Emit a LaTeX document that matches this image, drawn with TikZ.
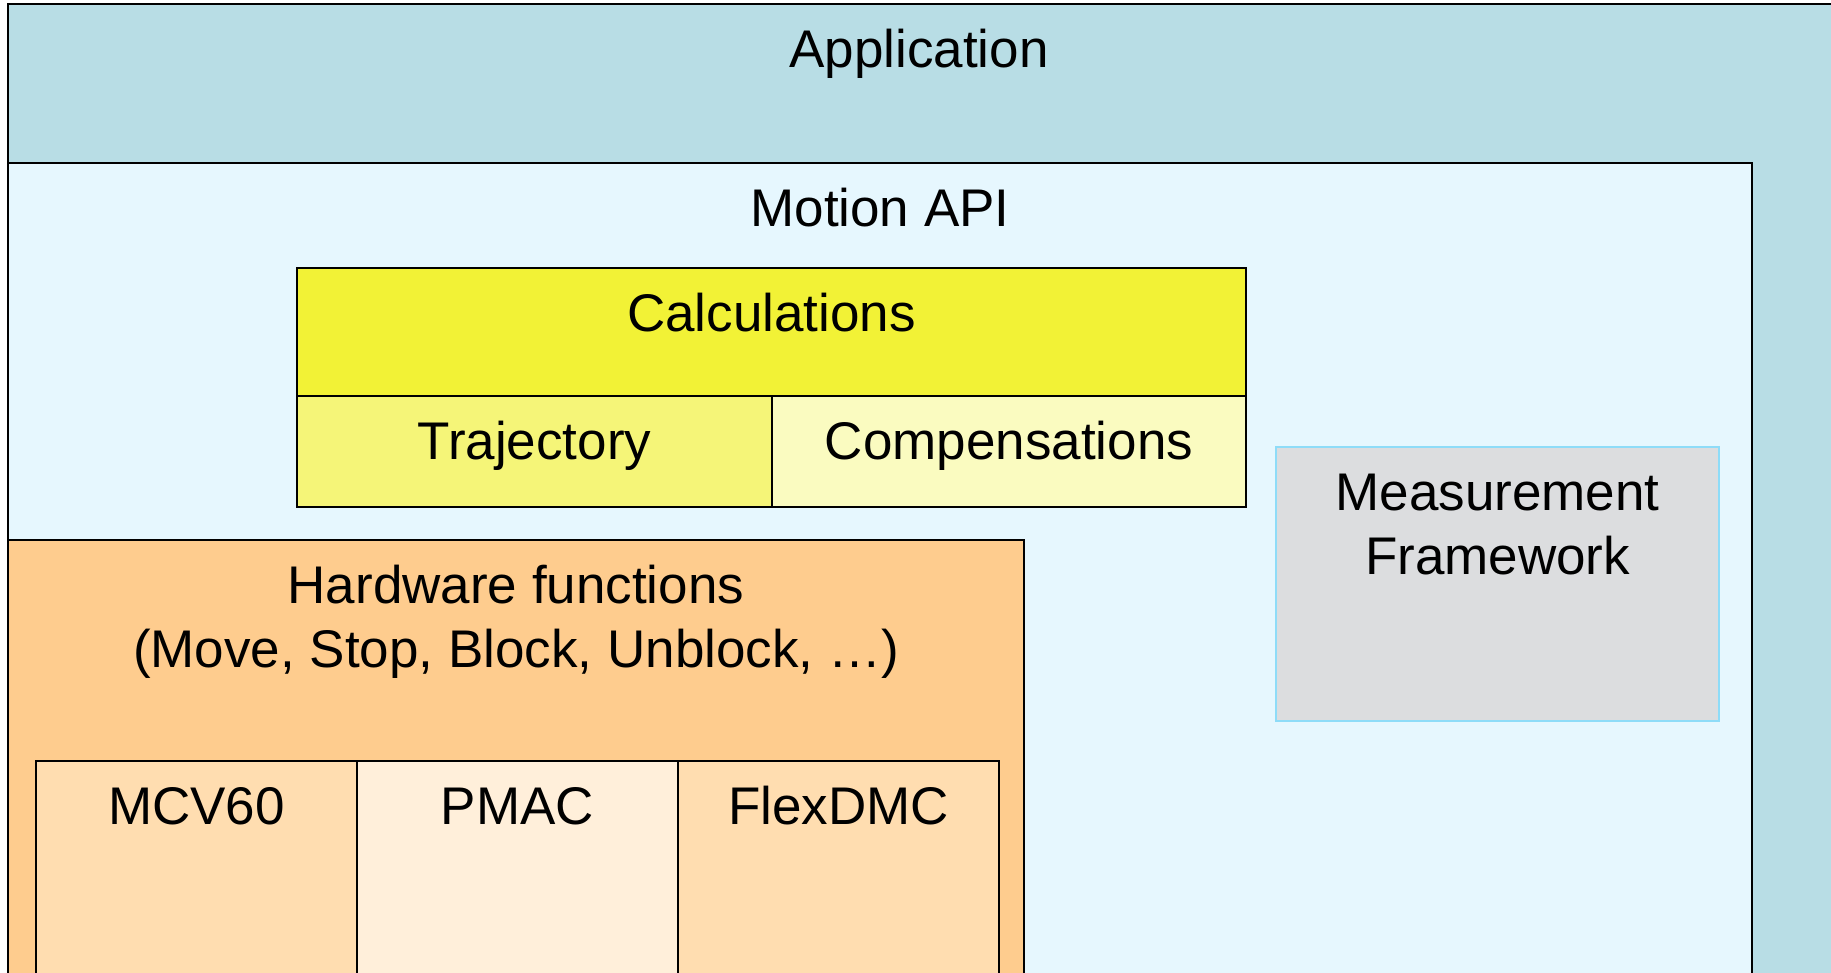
\documentclass[tikz,border=0pt]{standalone}
\usepackage{fontspec}
\setmainfont{Liberation Sans}
\usepackage{tikz}
\usetikzlibrary{positioning}

\definecolor{appfill}{HTML}{B8DDE5}
\definecolor{apifill}{HTML}{E6F7FE}
\definecolor{calcfill}{HTML}{F2F236}
\definecolor{trajfill}{HTML}{F5F578}
\definecolor{compfill}{HTML}{FAFBC0}
\definecolor{measfill}{HTML}{DCDDDF}
\definecolor{measline}{HTML}{8EDCF8}
\definecolor{hwfill}{HTML}{FECC8E}
\definecolor{ctlfill}{HTML}{FFDDB0}
\definecolor{pmacfill}{HTML}{FFEFDA}

\begin{document}
\begin{tikzpicture}[
x=1pt, y=-1pt,
box/.style={
  draw=black,
  line width=1.5pt,
  inner sep=0pt,
  outer sep=0pt,
  anchor=north west
  },
lbl/.style={
  font=\fontsize{53}{64}\selectfont,
  inner sep=0pt,
  anchor=base,
  align=center
  }
]
\useasboundingbox (0,0) rectangle (1831,972);
\clip (0,0) rectangle (1831,972);
% layers
\node[box, fill=appfill, minimum width=1860pt, minimum height=1000pt] (app) at (8,4) {};
\node[box, fill=apifill, minimum width=1744pt, minimum height=850pt] (api) at (8,163) {};
\node[box, fill=calcfill, minimum width=949pt, minimum height=128pt] (calc) at (297,268) {};
\node[box, fill=trajfill, minimum width=475pt, minimum height=111pt] (traj) at (calc.south west) {};
\node[box, fill=compfill, minimum width=474pt, minimum height=111pt] (comp) at (traj.north east) {};
\node[box, draw=measline, fill=measfill, minimum width=443pt, minimum height=274pt] (meas) at (1276,447) {};
\node[box, fill=hwfill, minimum width=1016pt, minimum height=480pt] (hw) at (8,540) {};
% controllers
\coordinate (c0) at (36,761);
\foreach \ctl/\cfill [count=\i, evaluate=\i as \j using int(\i-1)] in {MCV60/ctlfill,PMAC/pmacfill,FlexDMC/ctlfill}
{
  \node[box, fill=\cfill, minimum width=321pt, minimum height=260pt] (ctl\i) at (c\j) {};
  \coordinate (c\i) at (ctl\i.north east);
  \node[lbl] at ([yshift=-63pt]ctl\i.north) {\ctl};
}
% labels
\node[lbl] at ([yshift=-63pt]app.north -| 919,0) {Application};
\node[lbl] at ([yshift=-63pt]api.north) {Motion API};
\node[lbl] at ([yshift=-63pt]calc.north) {Calculations};
\node[lbl] at ([yshift=-63pt]traj.north) {Trajectory};
\node[lbl] at ([yshift=-63pt]comp.north) {Compensations};
\node[lbl] at ([yshift=-127pt]meas.north) {Measurement\\Framework};
\node[lbl] at ([yshift=-127pt]hw.north) {Hardware functions\\(Move, Stop, Block, Unblock, \dots)};
\end{tikzpicture}
\end{document}
